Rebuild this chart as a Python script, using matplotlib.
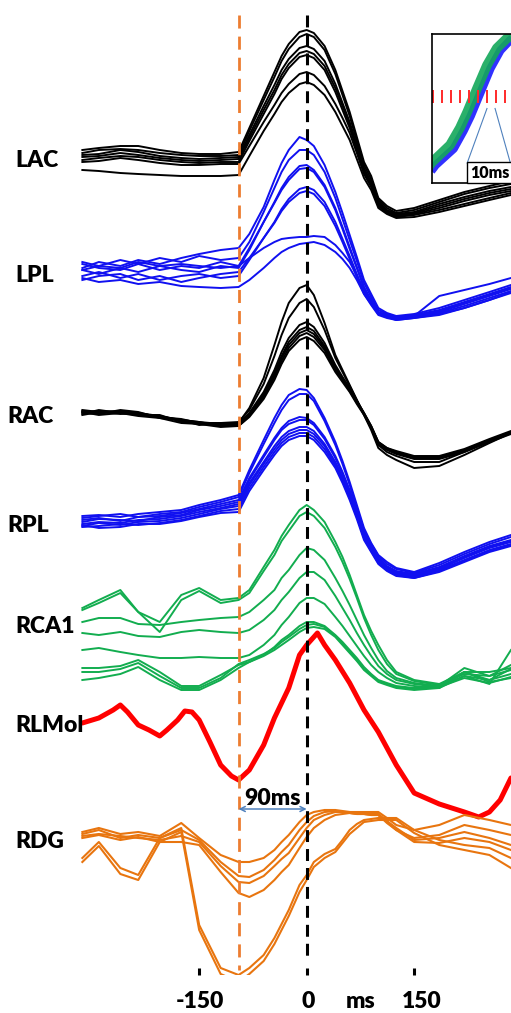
import matplotlib.pyplot as plt

# time grid (ms) shared by most channels, 0 = peak of the black dashed line
t = [-313, -290, -260, -235, -205, -175, -150, -120, -95, -80, -60, -45, -35, -25, -10,
     0, 10, 25, 40, 50, 60, 70, 80, 90, 100, 112, 125, 150, 185, 220, 255, 285]

# amplitudes (arbitrary units, up = positive) relative to each channel baseline
lac = [
    [8, 10, 12, 12, 8, 5, 4, 4, 6, 30, 62, 86, 102, 114, 126, 128, 125, 112, 88, 67, 46, 21, -4, -18, -40, -48, -53, -50, -42, -34, -28, -23],
    [5, 8, 9, 8, 5, 3, 2, 2, 3, 27, 58, 81, 97, 109, 121, 124, 121, 108, 84, 63, 42, 17, -7, -21, -42, -50, -55, -52, -44, -36, -30, -26],
    [3, 4, 8, 6, 2, 0, -1, 0, 1, 23, 52, 73, 88, 99, 110, 112, 109, 97, 74, 55, 36, 13, -10, -24, -44, -52, -56, -54, -46, -39, -33, -29],
    [1, 2, 5, 3, 0, -2, -3, -2, -1, 20, 48, 68, 83, 94, 105, 107, 104, 92, 70, 52, 33, 11, -12, -26, -46, -53, -57, -55, -48, -41, -35, -31],
    [-2, 0, 2, 1, -2, -4, -5, -4, -4, 17, 44, 64, 79, 90, 101, 103, 100, 88, 66, 48, 30, 8, -14, -27, -47, -54, -58, -56, -50, -43, -37, -33],
    [-4, -3, 0, -2, -5, -7, -7, -6, -6, 12, 36, 53, 65, 74, 84, 86, 83, 72, 54, 40, 25, 5, -16, -29, -48, -55, -59, -57, -52, -46, -40, -35],
    [-12, -13, -15, -16, -17, -18, -18, -18, -17, 2, 27, 44, 56, 65, 74, 76, 73, 63, 46, 32, 18, -1, -20, -32, -50, -56, -60, -59, -54, -48, -42, -37],
]
lpl = [
    [4, 10, 6, 12, 8, 14, 18, 22, 24, 38, 65, 92, 109, 122, 135, 132, 126, 107, 80, 59, 37, 15, -8, -22, -36, -41, -44, -42, -36, -28, -20, -13],
    [10, 6, 12, 8, 14, 10, 16, 12, 14, 30, 60, 84, 100, 112, 122, 122, 117, 100, 74, 53, 32, 11, -11, -25, -38, -42, -45, -43, -38, -30, -22, -15],
    [2, -2, 4, 0, 6, 2, 0, 6, 4, 22, 50, 70, 84, 95, 106, 107, 102, 87, 64, 45, 25, 5, -15, -28, -40, -43, -46, -44, -40, -32, -24, -17],
    [8, 4, 2, 8, 2, 6, 4, 10, 6, 24, 50, 69, 82, 92, 103, 104, 100, 85, 62, 43, 23, 4, -16, -29, -41, -44, -46, -44, -39, -31, -23, -16],
    [-4, 0, -6, -2, -8, -4, -2, -6, -4, 12, 34, 50, 63, 73, 83, 85, 82, 70, 50, 33, 16, -2, -20, -31, -42, -45, -47, -45, -41, -34, -26, -19],
    [-8, -4, -2, -8, -4, -10, -6, -2, 0, 14, 34, 49, 61, 70, 79, 81, 78, 66, 46, 30, 13, -5, -22, -33, -43, -46, -48, -46, -42, -36, -28, -21],
    [2, 6, 4, 10, 6, 8, 6, 4, 6, 14, 24, 30, 33, 34, 35, 35, 36, 35, 27, 19, 10, -4, -18, -29, -40, -44, -46, -44, -24, -18, -12, -6],
    [-6, -10, -8, -12, -10, -14, -15, -16, -15, -8, 4, 14, 20, 24, 28, 29, 30, 27, 20, 13, 4, -8, -22, -32, -42, -45, -48, -46, -43, -36, -28, -20],
]
rac = [
    [3, 4, 3, 1, -1, -5, -7, -9, -8, 7, 37, 70, 93, 112, 127, 130, 120, 92, 60, 45, 30, 15, 0, -15, -33, -40, -45, -53, -51, -40, -28, -18],
    [1, 5, 2, 0, -2, -4, -8, -8, -7, 5, 31, 59, 80, 97, 112, 116, 108, 85, 57, 43, 29, 15, 1, -13, -30, -37, -41, -47, -47, -37, -26, -17],
    [5, 3, 4, 2, -1, -6, -9, -10, -9, 2, 23, 45, 63, 77, 90, 93, 88, 72, 50, 38, 27, 14, 2, -11, -27, -33, -37, -43, -43, -35, -25, -17],
    [2, 1, 5, 3, -3, -5, -7, -11, -10, 1, 21, 42, 59, 73, 85, 88, 84, 69, 48, 37, 26, 14, 2, -11, -27, -33, -36, -41, -41, -34, -24, -16],
    [4, 2, 3, 0, 0, -7, -8, -9, -9, 1, 20, 40, 57, 70, 82, 85, 81, 67, 47, 36, 25, 13, 1, -12, -28, -34, -37, -42, -42, -35, -25, -17],
    [0, 3, 1, 2, -2, -5, -10, -8, -11, -1, 18, 38, 54, 67, 79, 82, 78, 65, 45, 35, 24, 12, 1, -12, -28, -34, -38, -43, -43, -36, -26, -18],
    [3, 0, 2, -1, -3, -8, -9, -12, -11, -2, 16, 35, 51, 64, 75, 78, 74, 62, 43, 33, 23, 11, 0, -13, -29, -35, -39, -44, -44, -37, -27, -19],
]
rpl = [
    [6, 7, 5, 8, 10, 12, 17, 22, 27, 52, 82, 104, 117, 127, 133, 132, 124, 104, 80, 61, 40, 17, -6, -21, -33, -40, -46, -50, -41, -30, -20, -13],
    [4, 6, 8, 5, 8, 10, 15, 20, 25, 49, 78, 99, 112, 122, 128, 128, 121, 101, 77, 58, 37, 14, -8, -22, -34, -42, -47, -51, -43, -32, -22, -15],
    [2, 4, 1, 5, 6, 9, 13, 18, 22, 44, 67, 84, 94, 101, 105, 104, 99, 85, 66, 50, 32, 11, -10, -24, -36, -44, -49, -52, -45, -34, -24, -18],
    [0, 3, 2, 1, 5, 7, 12, 16, 20, 42, 65, 82, 92, 98, 102, 102, 97, 83, 64, 48, 30, 9, -12, -26, -38, -45, -50, -53, -46, -35, -25, -19],
    [-2, 0, -1, 2, 3, 6, 10, 14, 18, 39, 60, 76, 85, 91, 95, 95, 91, 78, 60, 45, 28, 8, -13, -27, -39, -46, -51, -54, -47, -36, -26, -20],
    [-4, -1, -3, 0, 1, 4, 8, 13, 16, 37, 58, 73, 82, 88, 92, 92, 88, 76, 58, 43, 26, 6, -15, -28, -40, -47, -52, -55, -48, -38, -28, -22],
    [-5, -4, -2, -3, -1, 2, 6, 11, 13, 34, 55, 70, 79, 85, 89, 89, 85, 73, 56, 41, 24, 5, -16, -29, -41, -48, -53, -56, -49, -39, -29, -23],
    [-3, -6, -5, -2, -2, 1, 5, 9, 10, 31, 52, 67, 76, 82, 86, 86, 82, 70, 54, 39, 22, 3, -18, -30, -42, -49, -54, -56, -50, -40, -30, -24],
]
rca1 = [
    [20, 28, 38, 16, 6, 33, 40, 28, 30, 38, 61, 78, 92, 103, 118, 123, 118, 106, 86, 71, 53, 33, 13, -3, -17, -32, -44, -52, -56, -44, -44, -40],
    [18, 25, 35, 16, -4, 28, 37, 25, 28, 35, 57, 73, 87, 97, 112, 116, 112, 100, 81, 66, 49, 30, 10, -7, -22, -36, -46, -53, -57, -46, -48, -42],
    [6, 10, 10, 4, 3, 6, 8, 10, 11, 16, 28, 38, 50, 58, 73, 80, 78, 68, 50, 37, 23, 8, -7, -20, -32, -43, -50, -55, -58, -48, -52, -46],
    [-5, -7, -4, -8, -9, -4, -2, -4, -5, -2, 8, 18, 28, 36, 50, 56, 56, 48, 32, 20, 8, -5, -17, -28, -38, -46, -52, -56, -59, -50, -55, -49],
    [-22, -20, -24, -27, -30, -30, -29, -30, -30, -27, -17, -7, 3, 11, 25, 30, 30, 24, 11, 2, -8, -18, -28, -37, -44, -50, -55, -58, -60, -44, -54, -50],
    [-40, -40, -38, -32, -44, -58, -58, -47, -37, -34, -27, -19, -12, -7, 2, 6, 6, 2, -7, -14, -22, -30, -39, -46, -52, -55, -58, -60, -58, -40, -48, -37],
    [-44, -44, -41, -35, -48, -60, -60, -50, -36, -32, -26, -20, -14, -9, -1, 3, 4, 1, -8, -16, -24, -32, -41, -47, -53, -56, -59, -61, -59, -44, -52, -41],
    [-52, -50, -46, -39, -52, -62, -62, -52, -40, -34, -28, -22, -17, -12, -4, 0, 1, -1, -9, -17, -25, -33, -42, -48, -54, -57, -60, -62, -60, -48, -56, -22],
]
rlmol_t = [-313, -290, -270, -260, -250, -235, -220, -205, -195, -180, -170, -160, -150, -135,
           -120, -105, -95, -80, -60, -45, -25, -10, 0, 15, 25, 40, 60, 80, 100, 125, 150,
           185, 220, 240, 255, 270, 285]
rlmol = [-1, 4, 12, 17, 10, -3, -8, -14, -8, 2, 11, 10, 2, -20, -43, -54, -58, -48, -23, 4,
         34, 67, 77, 89, 77, 62, 39, 12, -10, -43, -71, -82, -90, -95, -90, -78, -56]
rdg = [
    [8, 12, 6, 8, 4, 17, 2, -15, -22, -22, -18, -10, -2, 5, 18, 25, 28, 30, 30, 29, 28, 28, 28, 28, 28, 22, 15, 10, 15, 25, 20, 15],
    [6, 10, 2, 5, 2, 10, 0, -22, -36, -37, -30, -20, -12, -5, 10, 18, 24, 28, 29, 28, 27, 26, 26, 25, 25, 18, 10, 2, 5, 15, 10, 5],
    [4, 6, 4, 2, 0, 4, -2, -26, -42, -43, -36, -26, -19, -13, 2, 12, 20, 25, 28, 28, 28, 27, 27, 26, 26, 19, 12, 0, 2, 8, 2, -5],
    [2, 5, 0, 3, -2, -2, -5, -32, -53, -57, -50, -40, -32, -25, -8, 3, 12, 20, 25, 26, 27, 26, 26, 25, 25, 17, 10, -2, -3, 2, -2, -10],
    [-18, -2, -28, -35, 2, 12, -85, -128, -135, -128, -115, -98, -84, -70, -45, -35, -22, -14, -9, 0, 10, 16, 20, 21, 22, 22, 22, 10, 0, -5, -8, -18],
    [-22, -6, -34, -40, -2, 8, -90, -134, -142, -134, -121, -104, -90, -76, -52, -40, -27, -18, -12, -3, 6, 12, 18, 19, 20, 20, 20, 7, -5, -10, -15, -28],
]

labels = ['LAC', 'LPL', 'RAC', 'RPL', 'RCA1', 'RLMol', 'RDG']
xticks = [-150, 0, 150]
onset, peak = -95, 0

# inset: zoom on rising edge
ins_green_t = [-6, -1, 19, 30, 38, 49, 60, 71, 82, 100]
ins_green = [10, 14, 25.5, 37, 47.5, 63.5, 79, 90.5, 97, 103]
ins_blue_t = [-2, 3, 23, 34, 42, 53, 64, 75, 86, 104]
ins_blue = [8, 12, 23, 35, 45, 61, 77, 89, 96, 102]
ins_ticks = [0, 10, 20, 30, 40, 50, 60, 70, 80]

plt.rcParams['font.family'] = ['Lato', 'DejaVu Sans']
plt.rcParams['font.weight'] = 'bold'

fig = plt.figure(figsize=(5.11, 10.13), dpi=100)
ax = fig.add_axes([0, 38 / 1013, 1, 975 / 1013])
ax.set_xlim(-427.9, 285.1)
ax.set_ylim(38, 1013)
ax.axis('off')

# channel baselines and colours
base = [855, 741, 598, 491, 385, 291, 173]
blue = '#1010f0'
green = '#12ad4f'
orange = '#e8750f'
groups = [(lac, 'black'), (lpl, blue), (rac, 'black'), (rpl, blue), (rca1, green)]
for (rows, c), b in zip(groups, base[:5]):
    for r in rows:
        ax.plot(t, [b + v for v in r], color=c, lw=1.4, solid_joinstyle='round')
ax.plot(rlmol_t, [base[5] + v for v in rlmol], color='#ff0000', lw=3.6,
        solid_joinstyle='round', solid_capstyle='round')
for r in rdg:
    ax.plot(t, [base[6] + v for v in r], color=orange, lw=1.5, solid_joinstyle='round')

# labels
lab_x = [-407, -407, -417, -417, -407, -407, -407]
lab_y = [846, 731, 590, 481, 380, 281, 165]
for s, x, y in zip(labels, lab_x, lab_y):
    ax.text(x, y, s, fontsize=16.5, fontweight='heavy', va='baseline', ha='left')

# dashed markers
ax.plot([onset, onset], [998, 43], color='#ed7d31', lw=2.0, dashes=(4.7, 2.9), zorder=5)
ax.plot([peak, peak], [998, 53], color='black', lw=2.2, dashes=(3.9, 2.3), zorder=5)

# 90 ms interval
ax.annotate('', xy=(onset, 204), xytext=(peak, 204),
            arrowprops=dict(arrowstyle='<->', color='#4f81bd', lw=1.1,
                            shrinkA=0, shrinkB=0, mutation_scale=9), zorder=6)
ax.text(-47, 208, '90ms', fontsize=16.5, fontweight='heavy', ha='center', va='baseline', zorder=6)

# x ticks
ax.vlines(xticks, 38, 45, color='black', lw=2.2, clip_on=False)
for x, dx in zip(xticks, [1, 2, 10]):
    ax.text(x + dx, 5, str(x), fontsize=16.5, fontweight='heavy', ha='center', va='baseline')
ax.text(75, 5, 'ms', fontsize=16.5, fontweight='heavy', ha='center', va='baseline')

# inset
ins = fig.add_axes([432 / 511, 1 - 183 / 1013, 96 / 511, 149 / 1013], zorder=10)
ins.set_xlim(-1.1, 105.6)
ins.set_ylim(0, 100)
ins.set_xticks([])
ins.set_yticks([])
for sp in ins.spines.values():
    sp.set_linewidth(1.2)
ins.plot(ins_blue_t, ins_blue, color='#1a1aff', lw=6, solid_capstyle='butt', alpha=0.9)
ins.plot(ins_green_t, ins_green, color='#13a85a', lw=7, solid_capstyle='butt', alpha=0.9)
ins.vlines(ins_ticks, 53.7, 62.4, color='#ff2a2a', lw=1.4)
ins.plot([60, 38], [50, 13.4], color='#4f81bd', lw=0.8)
ins.plot([69, 86], [50, 13.4], color='#4f81bd', lw=0.8)
ins.text(41, 3.5, '10ms', fontsize=11.5, fontweight='heavy', ha='left', va='baseline',
         bbox=dict(boxstyle='square,pad=0.15', fc='white', ec='black', lw=1))

fig.savefig('out.png', dpi=100)
